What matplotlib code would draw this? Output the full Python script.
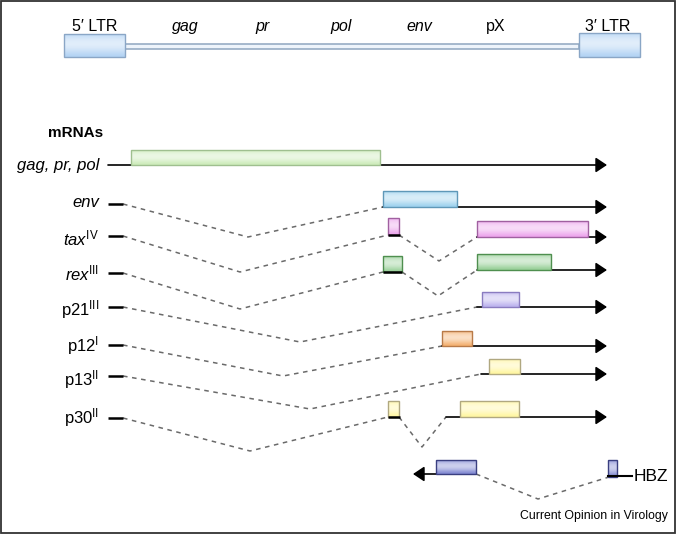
import numpy as np
import matplotlib
matplotlib.use("Agg")
import matplotlib.pyplot as plt
from matplotlib.patches import Rectangle
from matplotlib.colors import to_rgb

plt.rcParams['font.family'] = ['Liberation Sans', 'DejaVu Sans']
plt.rcParams['mathtext.fontset'] = 'custom'
plt.rcParams['mathtext.rm'] = 'Liberation Sans'
plt.rcParams['mathtext.it'] = 'Liberation Sans:italic'
plt.rcParams['mathtext.bf'] = 'Liberation Sans:bold'

# genome map (pixel-like genome coordinates)
ltr5 = (64, 125)
ltr3 = (579, 640)
genome_labels = ['gag', 'pr', 'pol', 'env', 'pX']
genome_label_x = [185, 263, 341, 419, 496]
genome_label_italic = [True, True, True, True, False]

# mRNA rows
row_labels = ['gag, pr, pol', 'env',
              r'$\mathit{tax}^{\mathrm{IV}}$', r'$\mathit{rex}^{\mathrm{III}}$',
              r'$\mathrm{p21}^{\mathrm{III}}$', r'$\mathrm{p12}^{\mathrm{I}}$',
              r'$\mathrm{p13}^{\mathrm{II}}$', r'$\mathrm{p30}^{\mathrm{II}}$']
label_base = [170, 207, 245, 280, 315, 351, 385, 423]
leader_y = [165, 204, 236, 273, 307, 345, 376, 418]

# spliced introns: (start x, start y, dip x, dip y, end x, end y)
introns = [
    [],
    [(123, 204, 248, 237, 383, 207)],
    [(123, 236, 240, 272, 388, 235), (399, 235, 439, 261, 477, 237)],
    [(123, 273, 240, 309, 383, 272), (402, 272, 438, 296, 477, 270)],
    [(123, 307, 300, 342, 477, 307)],
    [(123, 345, 283, 376, 442, 346)],
    [(123, 376, 310, 409, 481, 374)],
    [(123, 418, 250, 451, 388, 417), (399, 417, 422, 447, 446, 417)],
]
# small exons (x0, x1, y_base)
small_exons = [[], [], [(388, 400, 235)], [(383, 402, 272)], [], [], [], [(388, 400, 417)]]
# final exon solid line start and baseline
line_start = [108, 383, 477, 477, 477, 442, 481, 446]
line_y = [165, 207, 237, 270, 307, 346, 374, 417]
arrow_end = 607

# ORF boxes (x0, x1, top, bottom, face, edge)
orfs = [
    (131, 380, 150, 165, '#cdebba', '#9fbf8f'),
    (383, 457, 191, 207, '#9dd2ee', '#5f98b8'),
    (388, 399, 218, 235, '#eca4ec', '#a060a0'),
    (477, 588, 221, 237, '#eca4ec', '#a060a0'),
    (383, 402, 256, 272, '#98d098', '#4f8f4f'),
    (477, 551, 254, 270, '#98d098', '#4f8f4f'),
    (482, 519, 292, 307, '#bcb2ee', '#8a7cc0'),
    (442, 472, 331, 346, '#f4b070', '#b87a48'),
    (489, 520, 359, 374, '#fff6a0', '#b0a880'),
    (388, 399, 401, 417, '#fff6a0', '#b0a880'),
    (460, 519, 401, 417, '#fff6a0', '#b0a880'),
    (436, 476, 460, 474, '#8088d2', '#3a3f80'),
    (608, 617, 460, 477, '#8088d2', '#3a3f80'),
]

# HBZ antisense transcript
hbz_arrow = (476, 413, 474)
hbz_intron = (476, 474, 538, 499, 609, 477)
hbz_tail = (608, 632, 476)


def gbox(ax, x0, x1, y0, y1, face, edge, z=3):
    t = np.linspace(0, 1, 40)
    light = 0.6 * np.sin(np.pi * (0.15 + 0.85 * t)) ** 1.5
    base = np.array(to_rgb(face))
    img = base[None, :] * (1 - light[:, None]) + light[:, None]
    img = img[:, None, :]
    ax.imshow(img, extent=(x0, x1, y1, y0), aspect='auto',
              interpolation='bilinear', zorder=z)
    ax.add_patch(Rectangle((x0, y0), x1 - x0, y1 - y0, fill=False,
                           ec=edge, lw=1.0, zorder=z + 0.1))


fig = plt.figure(figsize=(6.78, 5.35), dpi=100)
ax = fig.add_axes([0, 0, 1, 1])

# genome
ax.add_patch(Rectangle((ltr5[1], 43.5), ltr3[0] - ltr5[1], 5, fc='#eef4fb',
                       ec='#8fa6c0', lw=1.1, zorder=2))
gbox(ax, ltr5[0], ltr5[1], 34, 57, '#b3d3f4', '#8aa6c6')
gbox(ax, ltr3[0], ltr3[1], 33, 57, '#b3d3f4', '#8aa6c6')
ax.text(sum(ltr5) / 2, 31, '5\u2032 LTR', fontsize=11.5, ha='center', va='baseline')
ax.text(sum(ltr3) / 2 - 2, 31, '3\u2032 LTR', fontsize=11.5, ha='center', va='baseline')
for lab, x, it in zip(genome_labels, genome_label_x, genome_label_italic):
    ax.text(x, 31, lab, fontsize=11.5, ha='center', va='baseline',
            style='italic' if it else 'normal')

ax.text(48, 137, 'mRNAs', fontsize=11, fontweight='bold', ha='left', va='baseline')

dash = dict(color='#6a6a6a', lw=1.1, ls=(0, (3, 3)), zorder=1)
for i, lab in enumerate(row_labels):
    ax.text(99, label_base[i], lab, fontsize=12, ha='right', va='baseline',
            style='italic' if i < 2 else 'normal')
    if i > 0:
        ax.plot([108, 123], [leader_y[i], leader_y[i]], color='black', lw=1.8,
                solid_capstyle='butt')
    for (xa, ya, xb, yb, xc, yc) in introns[i]:
        ax.plot([xa, xb, xc], [ya, yb, yc], **dash)
    for (xa, xb, yb) in small_exons[i]:
        ax.plot([xa, xb], [yb, yb], color='black', lw=1.8, solid_capstyle='butt', zorder=4)
    ax.annotate('', xy=(arrow_end, line_y[i]), xytext=(line_start[i], line_y[i]),
                arrowprops=dict(arrowstyle='-|>,head_length=0.45,head_width=0.3',
                                mutation_scale=15, lw=1.2, color='black',
                                shrinkA=0, shrinkB=0), zorder=2)

ax.annotate('', xy=(hbz_arrow[1], hbz_arrow[2]), xytext=(hbz_arrow[0], hbz_arrow[2]),
            arrowprops=dict(arrowstyle='-|>,head_length=0.45,head_width=0.3',
                            mutation_scale=15, lw=1.2, color='black',
                            shrinkA=0, shrinkB=0), zorder=2)
xa, ya, xb, yb, xc, yc = hbz_intron
ax.plot([xa, xb, xc], [ya, yb, yc], **dash)
ax.plot([hbz_tail[0], hbz_tail[1]], [hbz_tail[2], hbz_tail[2]], color='black', lw=1.5, zorder=4)
ax.text(634, 481, 'HBZ', fontsize=12.5, ha='left', va='baseline')

for (x0, x1, y0, y1, fc, ec) in orfs:
    gbox(ax, x0, x1, y0, y1, fc, ec)

ax.text(668, 518.5, 'Current Opinion in Virology', fontsize=8.8, ha='right', va='baseline')

# frame
ax.add_patch(Rectangle((1, 1), 674, 532, fill=False, ec='#333333', lw=1.3, zorder=6))

ax.set_xlim(0, 678)
ax.set_ylim(535, 0)
ax.axis('off')
fig.savefig('out.png', dpi=100)
